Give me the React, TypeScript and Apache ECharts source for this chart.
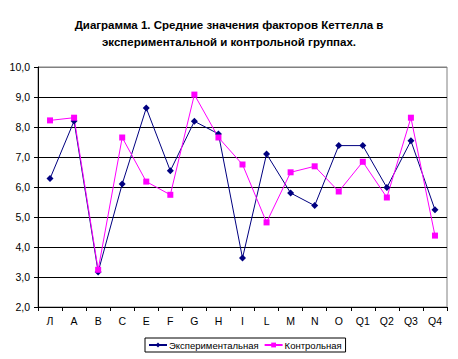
import React, { useEffect, useRef } from "react";
import * as echarts from "echarts";

const categories = ["Л", "A", "B", "C", "E", "F", "G", "H", "I", "L", "M", "N", "O", "Q1", "Q2", "Q3", "Q4"];
const experimental = [6.28, 8.2, 3.17, 6.1, 8.63, 6.54, 8.19, 7.77, 3.63, 7.1, 5.8, 5.38, 7.38, 7.38, 5.98, 7.54, 5.24];
const control = [8.22, 8.31, 3.24, 7.65, 6.18, 5.74, 9.08, 7.65, 6.75, 4.82, 6.49, 6.69, 5.85, 6.84, 5.65, 8.31, 4.38];
const seriesNames = ["Экспериментальная", "Контрольная"];
const titleText = "Диаграмма 1. Средние значения факторов Кеттелла в\nэкспериментальной и контрольной группах.";

const FONT = "Liberation Sans, Arial, sans-serif";

export default function App() {
  const ref = useRef<HTMLDivElement>(null);
  useEffect(() => {
    if (!ref.current) return;
    const chart = echarts.init(ref.current, null, { renderer: "svg" });
    chart.setOption({
      animation: false,
      backgroundColor: "#ffffff",
      title: {
        text: titleText,
        left: "center",
        top: 11,
        textStyle: { fontFamily: FONT, fontSize: 11.5, fontWeight: "bold", color: "#000", lineHeight: 17 },
      },
      grid: {
        left: 38,
        right: 11,
        top: 67,
        bottom: 52,
        show: true,
        borderColor: "#808080",
        borderWidth: 1,
      },
      legend: {
        bottom: 7,
        left: 145,
        itemWidth: 18,
        itemHeight: 6,
        itemGap: 5,
        padding: [2, 4, 2, 3],
        borderColor: "#000",
        borderWidth: 1,
        textStyle: { fontFamily: FONT, fontSize: 9.5, color: "#000", padding: [0, 0, 0, -3] },
        data: seriesNames,
      },
      xAxis: {
        type: "category",
        data: categories,
        boundaryGap: true,
        axisLine: { lineStyle: { color: "#000", width: 1 } },
        axisTick: { show: true, interval: 0, length: 4, lineStyle: { color: "#000" } },
        axisLabel: { interval: 0, fontFamily: FONT, fontSize: 10.5, color: "#000", margin: 8 },
      },
      yAxis: {
        type: "value",
        min: 2,
        max: 10,
        interval: 1,
        axisLine: { show: true, lineStyle: { color: "#000", width: 1 } },
        axisTick: { show: true, length: 4, lineStyle: { color: "#000" } },
        axisLabel: {
          fontFamily: FONT,
          fontSize: 10.5,
          color: "#000",
          margin: 8,
          formatter: (v: number) => v.toFixed(1).replace(".", ","),
        },
        splitLine: {
          show: true,
          lineStyle: {
            color: ["#000", "#000", "#000", "#000", "#000", "#000", "#000", "#000", "#808080"],
            width: 1,
          },
        },
      },
      series: [
        {
          name: seriesNames[0],
          type: "line",
          data: experimental,
          symbol: "diamond",
          symbolSize: 7,
          itemStyle: { color: "#000080" },
          lineStyle: { color: "#000080", width: 1 },
        },
        {
          name: seriesNames[1],
          type: "line",
          data: control,
          symbol: "rect",
          symbolSize: 6,
          itemStyle: { color: "#ff00ff" },
          lineStyle: { color: "#ff00ff", width: 1 },
        },
      ],
    });
    return () => chart.dispose();
  }, []);
  return <div ref={ref} style={{ width: 458, height: 359, position: "absolute", left: 0, top: 0 }} />;
}
